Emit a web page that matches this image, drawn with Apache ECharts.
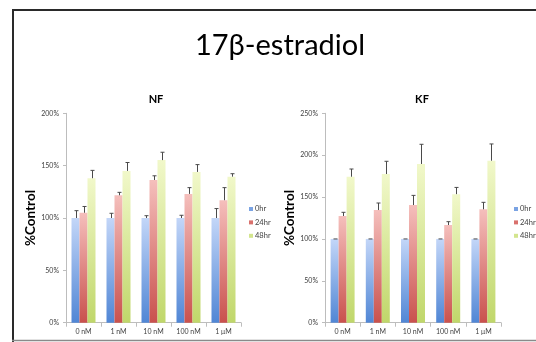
<!DOCTYPE html>
<html>
<head>
<meta charset="utf-8">
<script src="https://cdn.jsdelivr.net/npm/echarts@6/dist/echarts.min.js"></script>
<style>
  html, body { margin: 0; padding: 0; background: #fff; }
  #chart { width: 536px; height: 342px; }
</style>
</head>
<body>
<div id="chart"></div>
<script>
// Concentrations tested
const categories = ['0 nM', '1 nM', '10 nM', '100 nM', '1 μM'];
const seriesNames = ['0hr', '24hr', '48hr'];

// NF: mean %Control and upper error
const nf0hr = [100, 100, 100, 100, 100];
const nf0hrErr = [7, 4.5, 2.2, 2.6, 9];
const nf24hr = [105, 121.7, 136.3, 123, 117];
const nf24hrErr = [6, 2.8, 4, 6, 12];
const nf48hr = [138, 145, 155.3, 144, 139.5];
const nf48hrErr = [7.5, 8, 7.5, 7, 2.8];

// KF: mean %Control and upper error
const kf0hr = [100, 100, 100, 100, 100];
const kf0hrErr = [0, 0, 0, 0, 0];
const kf24hr = [127.4, 134.5, 140.5, 116.6, 135.4];
const kf24hrErr = [4.4, 8.4, 11.5, 4, 8.3];
const kf48hr = [174.3, 177.5, 189.5, 153.5, 193.4];
const kf48hrErr = [9.2, 15.2, 23.5, 8, 20];

const FONT = 'Lato';
const BAR_W = 8;

function grad(top, bottom) {
  return new echarts.graphic.LinearGradient(0, 0, 0, 1, [
    { offset: 0, color: top },
    { offset: 1, color: bottom }
  ]);
}
const fills = [
  grad('#c3d6f8', '#5086d5'),
  grad('#f5bfbc', '#c9514d'),
  grad('#f1f8ca', '#c0d76a')
];
const legendColors = ['#7aa3e3', '#d9716d', '#d3e58e'];

function barSeries(name, k, gridIdx, values) {
  return {
    type: 'bar', name: name,
    xAxisIndex: gridIdx, yAxisIndex: gridIdx,
    data: values,
    barWidth: BAR_W, barGap: '0%',
    itemStyle: { color: fills[k] },
    emphasis: { disabled: true },
    animation: false
  };
}

function errSeries(k, gridIdx, values, errs) {
  return {
    type: 'custom',
    xAxisIndex: gridIdx, yAxisIndex: gridIdx,
    data: values.map((v, i) => [i, v, errs[i]]),
    silent: true, animation: false, z: 5,
    renderItem: function (params, api) {
      const i = api.value(0), v = api.value(1), e = api.value(2);
      const base = api.coord([i, v]);
      const top = api.coord([i, v + e]);
      const x = Math.round(base[0] + (k - 1) * BAR_W) + 0.5;
      const style = { stroke: '#4a4a4a', lineWidth: 1 };
      const children = [
        { type: 'line', shape: { x1: x - 2, y1: top[1], x2: x + 2, y2: top[1] }, style: style }
      ];
      if (e > 0) {
        children.push({ type: 'line', shape: { x1: x, y1: base[1], x2: x, y2: top[1] }, style: style });
      }
      return { type: 'group', children: children };
    }
  };
}

const axisColor = '#bdbdbd';
const labelStyle = { fontFamily: FONT, fontSize: 7, color: '#404040' };

function xAxis(gridIdx) {
  return {
    type: 'category', gridIndex: gridIdx, data: categories,
    axisLine: { lineStyle: { color: axisColor } },
    axisTick: { show: true, length: 4, lineStyle: { color: axisColor } },
    axisLabel: Object.assign({ margin: 6 }, labelStyle)
  };
}
function yAxis(gridIdx, max) {
  return {
    type: 'value', gridIndex: gridIdx, min: 0, max: max, interval: 50,
    axisLine: { show: true, lineStyle: { color: axisColor } },
    axisTick: { show: true, length: 3, lineStyle: { color: axisColor } },
    splitLine: { show: false },
    axisLabel: Object.assign({ margin: 7, formatter: '{value}%' }, labelStyle),
    name: '%Control', nameLocation: 'middle', nameRotate: 90, nameGap: 26,
    nameTextStyle: { fontFamily: FONT, fontSize: 13.5, fontWeight: 'bold', color: '#000' }
  };
}
function legend(left) {
  return {
    left: left, top: 199, orient: 'vertical',
    data: seriesNames.map((n, k) => ({ name: n, itemStyle: { color: legendColors[k] } })),
    icon: 'rect', itemWidth: 4, itemHeight: 4, itemGap: 3.4,
    textStyle: { fontFamily: FONT, fontSize: 7.5, color: '#404040', lineHeight: 10, padding: [0, 0, 0, -3] },
    selectedMode: false
  };
}

const chart = echarts.init(document.getElementById('chart'), null, { renderer: 'canvas' });
chart.setOption({
  backgroundColor: '#fff',
  animation: false,
  title: [
    { text: '17β-estradiol', left: 275, top: 26, textAlign: 'center',
      textStyle: { fontFamily: FONT, fontSize: 29, fontWeight: 'normal', color: '#000' } },
    { text: 'NF', left: 151, top: 89, textAlign: 'center',
      textStyle: { fontFamily: FONT, fontSize: 11, fontWeight: 'bold', color: '#000' } },
    { text: 'KF', left: 417, top: 89, textAlign: 'center',
      textStyle: { fontFamily: FONT, fontSize: 11, fontWeight: 'bold', color: '#000' } }
  ],
  legend: [legend(244), legend(509)],
  grid: [
    { left: 66, top: 113.3, width: 175, height: 209.4 },
    { left: 325, top: 113.3, width: 176, height: 209.4 }
  ],
  xAxis: [xAxis(0), xAxis(1)],
  yAxis: [yAxis(0, 200), yAxis(1, 250)],
  series: [
    barSeries('0hr', 0, 0, nf0hr),
    barSeries('24hr', 1, 0, nf24hr),
    barSeries('48hr', 2, 0, nf48hr),
    errSeries(0, 0, nf0hr, nf0hrErr),
    errSeries(1, 0, nf24hr, nf24hrErr),
    errSeries(2, 0, nf48hr, nf48hrErr),
    barSeries('0hr', 0, 1, kf0hr),
    barSeries('24hr', 1, 1, kf24hr),
    barSeries('48hr', 2, 1, kf48hr),
    errSeries(0, 1, kf0hr, kf0hrErr),
    errSeries(1, 1, kf24hr, kf24hrErr),
    errSeries(2, 1, kf48hr, kf48hrErr)
  ],
  graphic: [
    // slide frame
    { type: 'line', shape: { x1: 12, y1: 10, x2: 536, y2: 10 }, style: { stroke: '#2a2a2a', lineWidth: 2 }, silent: true },
    { type: 'line', shape: { x1: 13, y1: 9, x2: 13, y2: 342 }, style: { stroke: '#2a2a2a', lineWidth: 2 }, silent: true },
    { type: 'line', shape: { x1: 12, y1: 340.5, x2: 536, y2: 340.5 }, style: { stroke: '#8a8a8a', lineWidth: 1.5 }, silent: true }
  ]
});
</script>
</body>
</html>
